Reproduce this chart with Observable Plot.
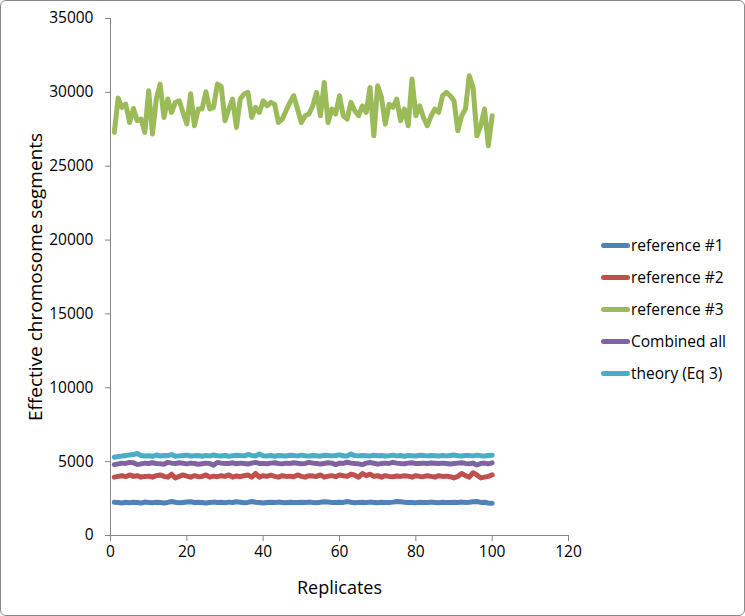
<!DOCTYPE html>
<html>
<head>
<meta charset="utf-8">
<script src="https://cdn.jsdelivr.net/npm/d3@7"></script>
<script src="https://cdn.jsdelivr.net/npm/@observablehq/plot@0.6"></script>
<style>
  body { margin: 0; background: #fff; }
  #wrap { position: relative; width: 745px; height: 616px; font-family: "Open Sans", sans-serif; }
  #border { position: absolute; left: 0; top: 0; width: 745px; height: 616px; box-sizing: border-box; border: 1px solid #8a8a8a; border-radius: 6px; pointer-events: none; }
  #legend { position: absolute; left: 601px; top: 229px; font-size: 15.5px; color: #000; }
  .row { display: flex; align-items: center; height: 32px; }
  .sw { width: 29px; height: 5px; border-radius: 2.5px; margin-right: 1px; }
</style>
</head>
<body>
<div id="wrap"><div id="chart"></div><div id="legend"></div><div id="border"></div></div>
<script>
const seriesNames = ["reference #1", "reference #2", "reference #3", "Combined all", "theory (Eq 3)"];
const seriesColors = ["#4F81BD", "#C0504D", "#9BBB59", "#8064A2", "#4BACC6"];
const xTicks = [0, 20, 40, 60, 80, 100, 120];
const yTicks = [0, 5000, 10000, 15000, 20000, 25000, 30000, 35000];
const replicates = d3.range(1, 101);

const ref1 = [2250,2230,2200,2250,2220,2250,2230,2200,2260,2240, 2220,2250,2230,2200,2240,2300,2250,2220,2240,2260,
  2280,2230,2250,2240,2200,2230,2260,2240,2250,2220, 2260,2230,2280,2250,2220,2240,2300,2250,2230,2200,
  2240,2250,2230,2260,2240,2220,2250,2230,2240,2250, 2230,2260,2240,2220,2250,2280,2260,2240,2230,2250,
  2240,2300,2250,2220,2240,2250,2230,2260,2240,2220, 2250,2240,2230,2260,2300,2280,2250,2230,2240,2220,
  2250,2240,2230,2260,2240,2220,2250,2240,2230,2250, 2240,2260,2230,2250,2280,2300,2240,2250,2200,2180];

const ref2 = [3950,4000,4050,3980,4100,4000,4050,3950,4000,4020, 3950,4050,4100,4000,3950,4150,3900,4000,4100,4020,
  3950,4050,3980,4000,4100,3950,4020,3980,4050,4000, 4100,3950,4030,3980,4050,4100,3950,4200,3950,4050,
  4000,4080,4000,3950,4050,4000,4020,3980,4100,4000, 3950,4050,4030,4000,4100,3950,4020,4050,3980,4100,
  4050,4000,4150,4080,3950,4200,4050,4150,4000,4050, 3950,4050,4000,3980,4030,4000,4050,4020,3950,4050,
  4000,3980,4050,4000,3950,4050,4000,4020,3980,3900, 4000,4200,4050,3950,4250,4100,3900,3950,4000,4100];

const ref3 = [27290,29610,28980,29200,27960,28910,28080,28190,27290,30110, 27180,29550,30560,28300,29550,28640,29320,29430,28640,27860,
  29900,27740,28870,28870,30040,28870,28980,30560,30400,28080, 28870,29550,27630,29550,29890,30000,28300,28980,28640,29430,
  29090,29320,29200,27960,28190,28750,29320,29770,28870,27960, 28410,28530,29090,30000,28410,30670,27960,28870,28530,29770,
  28410,28190,29320,28750,28420,29090,28640,30330,27060,30440, 29660,27850,29200,28980,29550,28080,28870,27740,30900,28410,
  29090,28300,27740,28410,28870,28640,29770,30000,29770,29430, 27400,28410,28870,31130,30330,27060,27740,28870,26390,28410];

const combined = [4800,4850,4900,4880,4950,4920,4800,4850,4900,4870, 4920,4880,4850,4830,4950,4900,4870,4920,4890,4850,
  4900,4870,4820,4860,4900,4880,4750,4950,4900,4870, 4880,4920,4860,4900,4880,4840,4900,4950,4880,4870,
  4860,4900,4920,4880,4850,4900,4870,4920,4890,4860, 4880,4950,4900,4870,4840,4880,4920,4900,4800,4900,
  4880,4960,4900,4870,4850,4800,4900,4940,4890,4830, 4870,4900,4880,4950,4900,4870,4860,4900,4920,4880,
  4880,4900,4870,4910,4890,4870,4900,4880,4840,4870, 4900,4930,4880,4860,4900,4780,4870,4900,4850,4920];

const theory = [5300,5350,5380,5420,5450,5480,5550,5420,5380,5400, 5360,5450,5380,5420,5400,5480,5360,5390,5410,5440,
  5380,5400,5420,5370,5410,5390,5450,5400,5380,5420, 5370,5400,5430,5410,5390,5480,5420,5380,5520,5400,
  5390,5410,5370,5420,5400,5380,5430,5410,5390,5440, 5400,5380,5420,5400,5370,5430,5410,5390,5420,5460,
  5400,5380,5520,5410,5390,5420,5400,5380,5430,5400, 5420,5380,5400,5440,5390,5410,5370,5420,5400,5380,
  5430,5410,5390,5420,5400,5380,5410,5390,5420,5450, 5400,5380,5420,5410,5390,5440,5400,5380,5420,5440];

const seriesValues = [ref1, ref2, ref3, combined, theory];
const data = seriesNames.flatMap((name, s) =>
  seriesValues[s].map((v, i) => ({ series: name, rep: replicates[i], value: v })));

const fmt = d3.format("d");

const chart = Plot.plot({
  width: 745, height: 616,
  marginLeft: 110, marginRight: 177, marginTop: 18, marginBottom: 81,
  style: { fontFamily: "Open Sans, sans-serif", background: "transparent", overflow: "visible" },
  x: { domain: [0, 120] },
  y: { domain: [0, 35000] },
  color: { domain: seriesNames, range: seriesColors },
  marks: [
    Plot.axisY({ ticks: yTicks, tickFormat: fmt, tickSize: 5, tickPadding: 12, fontSize: 15.5, label: null, stroke: "#868686", fill: "#000" }),
    Plot.axisX({ ticks: xTicks, tickFormat: fmt, tickSize: 6, tickPadding: 4, fontSize: 15.5, label: null, stroke: "#868686", fill: "#000" }),
    Plot.ruleX([0], { stroke: "#868686", strokeWidth: 1 }),
    Plot.ruleY([0], { stroke: "#868686", strokeWidth: 1 }),
    Plot.lineY(data, { x: "rep", y: "value", z: "series", stroke: "series", strokeWidth: 5, strokeLinejoin: "round", strokeLinecap: "round" }),
    Plot.text(["Replicates"], { frameAnchor: "bottom", dy: 53, fontSize: 18, textAnchor: "middle", lineAnchor: "middle", fill: "#000" }),
    Plot.text(["Effective chromosome segments"], { frameAnchor: "left", dx: -75, rotate: -90, fontSize: 19, textAnchor: "middle", lineAnchor: "middle", fill: "#000" })
  ]
});
document.getElementById("chart").appendChild(chart);

const legend = document.getElementById("legend");
seriesNames.forEach((name, i) => {
  const row = document.createElement("div");
  row.className = "row";
  const sw = document.createElement("div");
  sw.className = "sw";
  sw.style.background = seriesColors[i];
  const label = document.createElement("span");
  label.textContent = name;
  row.appendChild(sw);
  row.appendChild(label);
  legend.appendChild(row);
});
</script>
</body>
</html>
